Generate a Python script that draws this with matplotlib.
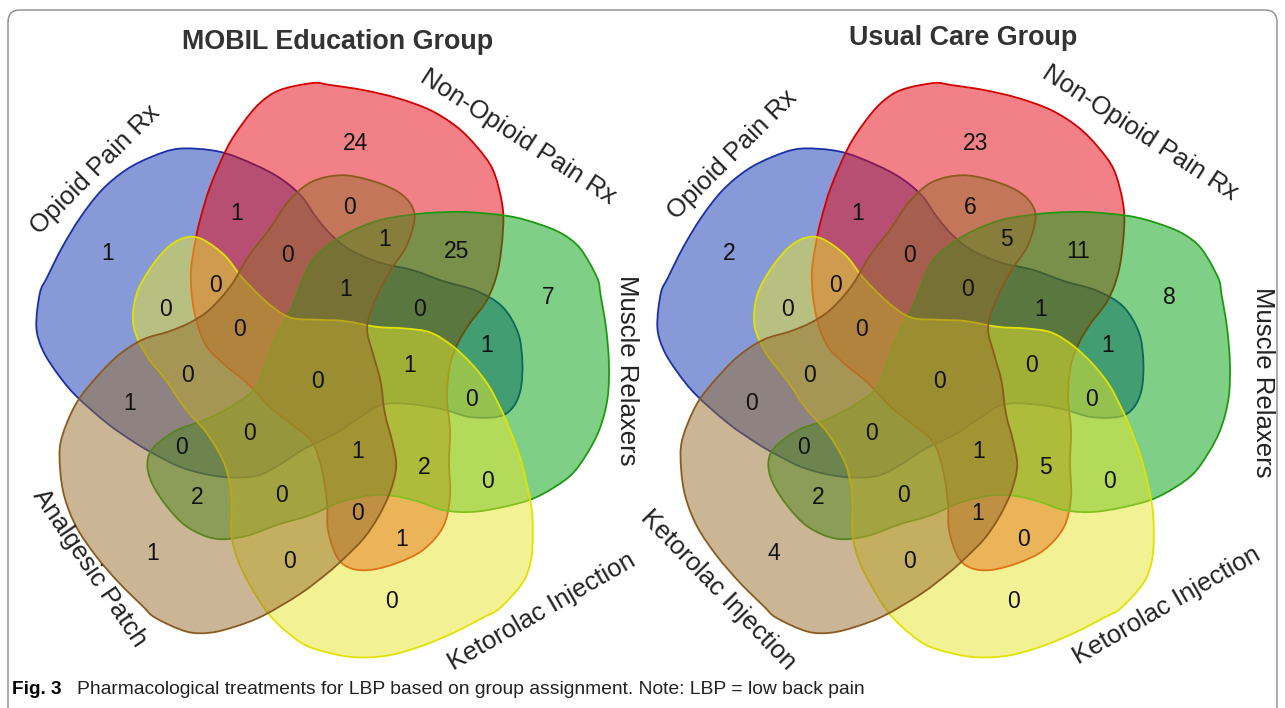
import numpy as np
import matplotlib.pyplot as plt
from matplotlib.path import Path
from matplotlib.patches import PathPatch, FancyBboxPatch
from matplotlib.colors import to_rgba

plt.rcParams['font.family'] = ['Liberation Sans', 'DejaVu Sans']

# data: region counts, same region order for both groups
titles = ['MOBIL Education Group', 'Usual Care Group']
set_names_mobil = ['Opioid Pain Rx', 'Non-Opioid Pain Rx', 'Muscle Relaxers',
                   'Ketorolac Injection', 'Analgesic Patch']
set_names_usual = ['Opioid Pain Rx', 'Non-Opioid Pain Rx', 'Muscle Relaxers',
                   'Ketorolac Injection', 'Ketorolac Injection']
counts_mobil = [24, 1, 1, 0, 1, 25, 7, 0, 0, 0, 0, 1, 0, 1, 0, 0, 1, 1, 0, 0,
                0, 1, 2, 0, 2, 0, 0, 1, 1, 0, 0]
counts_usual = [23, 1, 2, 6, 5, 11, 8, 0, 0, 0, 0, 0, 1, 1, 0, 0, 0, 0, 0, 0,
                0, 1, 5, 0, 2, 0, 1, 0, 4, 0, 0]
caption_bold = 'Fig. 3'
caption = 'Pharmacological treatments for LBP based on group assignment. Note: LBP = low back pain'

# layout (pixels); region label spots and outline are given for the left diagram
centres = [(321, 376), (942, 376)]
cx0, cy0 = centres[0]
region_xy = [(355, 143), (237, 213), (108, 254), (349, 207), (385, 240), (457, 252),
             (548, 298), (288, 255), (215, 285), (166, 310), (240, 330), (346, 290),
             (420, 310), (487, 345), (188, 375), (318, 381), (410, 365), (130, 404),
             (471, 399), (250, 433), (182, 447), (358, 451), (424, 468), (488, 482),
             (197, 497), (282, 495), (357, 513), (402, 540), (153, 553), (289, 561),
             (392, 602)]
region_xy = [(x - cx0, y - cy0) for x, y in region_xy]

# outline of the set pointing up (Non-Opioid); the others are rotations of it
blob = [(313, 83), (330, 85), (363, 90), (397, 98), (430, 110), (457, 127), (477, 147),
        (493, 170), (502, 203), (503, 230), (498, 270), (487, 300), (470, 323),
        (458, 343), (450, 365), (447, 397), (450, 430), (449, 463), (450, 497),
        (443, 527), (423, 550), (397, 563), (370, 570), (350, 568), (337, 557),
        (328, 530), (327, 503), (322, 470), (312, 442), (290, 423), (270, 407),
        (247, 383), (225, 365), (207, 347), (197, 323), (192, 297), (191, 270),
        (195, 243), (200, 220), (210, 187), (227, 148), (243, 123), (260, 103),
        (280, 90)]
blob = np.array(blob, float) - np.array([cx0, cy0])

# sets in order: Opioid, Non-Opioid, Muscle, Ketorolac, Patch
set_rot = [288, 0, 72, 144, 216]
face = ['#1137b1', '#e5050f', '#00a00f', '#e7e72d', '#976d2d']
edge = ['#1a2fa8', '#d40000', '#1e9a12', '#e2e200', '#8b5a1e']

label_pos = [
    [(95, 170, 45), (518, 137, -33), (627, 370, -90), (542, 612, 30), (90, 568, -56)],
    [(732, 155, 45), (1140, 133, -33), (1263, 382, -90), (1167, 606, 30), (718, 590, -46)],
]
title_pos = [(338, 42), (963, 38)]


def smooth_path(pts):
    n = len(pts)
    verts = [pts[0]]
    codes = [Path.MOVETO]
    for i in range(n):
        p0, p1, p2, p3 = pts[i - 1], pts[i], pts[(i + 1) % n], pts[(i + 2) % n]
        verts += [p1 + (p2 - p0) / 6, p2 - (p3 - p1) / 6, p2]
        codes += [Path.CURVE4] * 3
    return Path(verts, codes)


def rotate(pts, deg):
    t = np.deg2rad(deg)
    c, s = np.cos(t), np.sin(t)
    return np.column_stack([pts[:, 0] * c - pts[:, 1] * s, pts[:, 0] * s + pts[:, 1] * c])


fig = plt.figure(figsize=(12.85, 7.08), dpi=100)
ax = fig.add_axes([0, 0, 1, 1])
ax.set_xlim(0, 1285)
ax.set_ylim(708, 0)
ax.axis('off')

all_counts = [counts_mobil, counts_usual]
all_names = [set_names_mobil, set_names_usual]
for d, (cx, cy) in enumerate(centres):
    for k in range(5):
        pts = rotate(blob, set_rot[k]) + np.array([cx, cy])
        ax.add_patch(PathPatch(smooth_path(pts), facecolor=to_rgba(face[k], 0.5),
                               edgecolor=edge[k], lw=1.3))
    for (dx, dy), v in zip(region_xy, all_counts[d]):
        ax.text(cx + dx, cy + dy, str(v), ha='center', va='center', fontsize=16.5, color='#111111')
    for name, (lx, ly, rot) in zip(all_names[d], label_pos[d]):
        ax.text(lx, ly, name, ha='center', va='center', rotation=rot,
                rotation_mode='anchor', fontsize=18.5, color='#222222')
    ax.text(title_pos[d][0], title_pos[d][1], titles[d], ha='center', va='center',
            fontsize=19.4, fontweight='bold', color='#333333')

ax.add_patch(FancyBboxPatch((8, 10), 1269, 720, boxstyle='round,pad=0,rounding_size=12',
                            facecolor='none', edgecolor='#8a8a8a', lw=1, clip_on=False))
ax.text(12, 690, caption_bold, ha='left', va='center', fontsize=13.7, fontweight='bold')
ax.text(77, 690, caption, ha='left', va='center', fontsize=13.9, color='#222222')

fig.savefig('out.png', dpi=100)
